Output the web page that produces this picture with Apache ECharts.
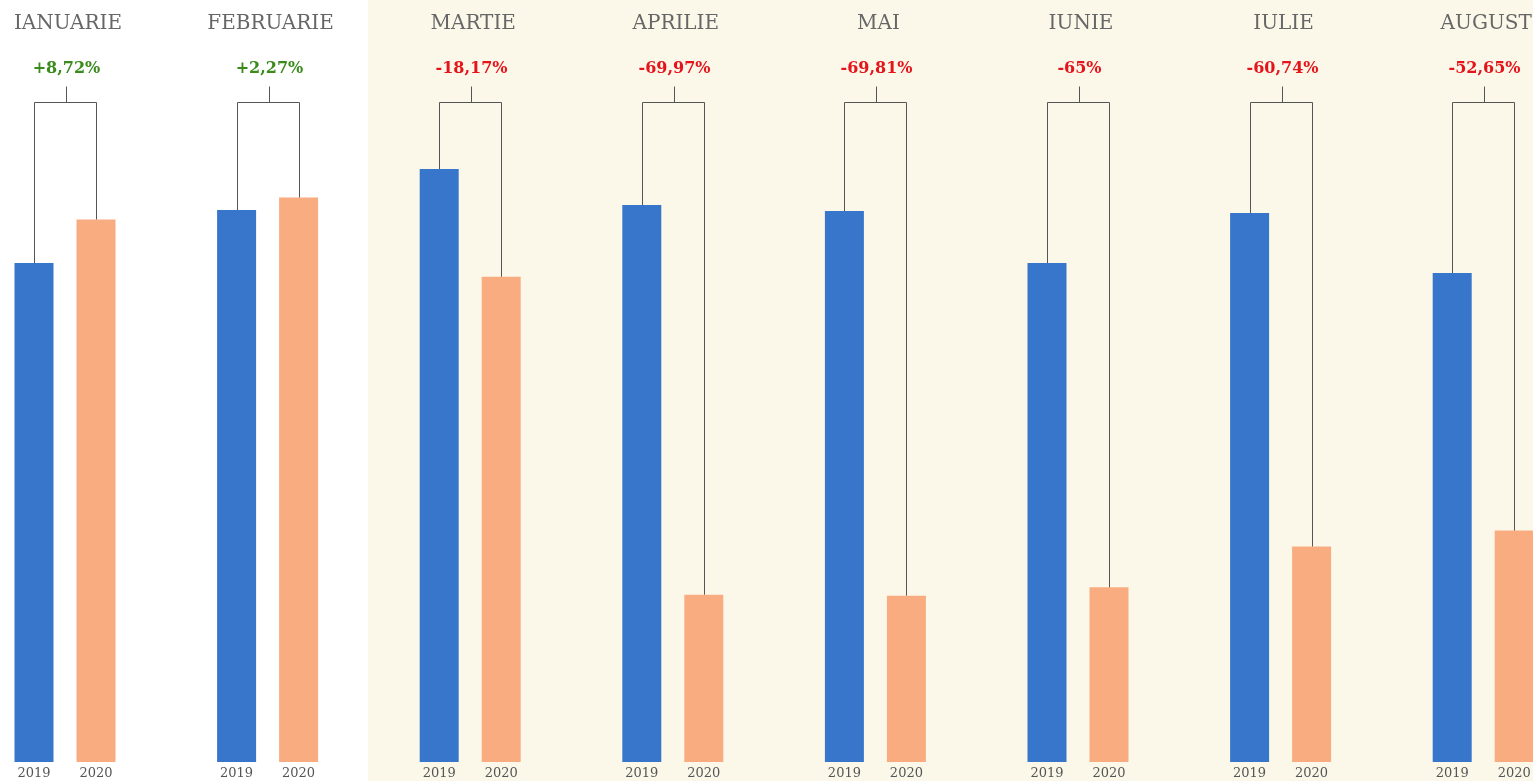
<!DOCTYPE html>
<html>
<head>
<meta charset="utf-8">
<script src="https://cdn.jsdelivr.net/npm/echarts@6/dist/echarts.min.js"></script>
<style>
  html, body { margin: 0; padding: 0; background: #ffffff; }
  #chart { width: 1533px; height: 781px; }
</style>
</head>
<body>
<div id="chart"></div>
<script>
// Monthly comparison, 2019 vs 2020
const luni = ['IANUARIE', 'FEBRUARIE', 'MARTIE', 'APRILIE', 'MAI', 'IUNIE', 'IULIE', 'AUGUST'];
const ani = ['2019', '2020'];
const valori2019 = [499, 552, 593, 557, 551, 499, 549, 489];
const valori2020 = [542.5, 564.5, 485.3, 167.3, 166.3, 174.7, 215.5, 231.5];
const variatii = ['+8,72%', '+2,27%', '-18,17%', '-69,97%', '-69,81%', '-65%', '-60,74%', '-52,65%'];

const COL_2019 = '#3876cc';
const COL_2020 = '#f8ac80';
const VERDE = '#3a8a1c';
const ROSU = '#e5141b';
const LINIE = '#555555';

const PAS = 202.6;      // horizontal step between month groups
const LATIME = 124;     // width of a month group's grid
const STANGA = 3;
const SUS = 62;
const JOS = 19;
const MAX_Y = 700;
const NIVEL_ACOLADA = 660;  // value level of the bracket joining the two bars

const chart = echarts.init(document.getElementById('chart'));

const grids = [], xAxes = [], yAxes = [], series = [], titles = [];

luni.forEach((luna, i) => {
  const left = STANGA + PAS * i;
  grids.push({ left: left, width: LATIME, top: SUS, bottom: JOS, outerBoundsMode: 'none', containLabel: false });
  xAxes.push({
    type: 'category', gridIndex: i, data: ani,
    axisLine: { show: false }, axisTick: { show: false },
    axisLabel: { color: '#555', fontSize: 13, margin: 5, fontFamily: 'DejaVu Serif' }
  });
  yAxes.push({
    type: 'value', gridIndex: i, min: 0, max: MAX_Y,
    show: false, splitLine: { show: false }
  });
  titles.push({
    text: luna,
    left: left + LATIME / 2 - 2, top: 9, textAlign: 'center',
    textStyle: { color: '#666', fontSize: 20, fontWeight: 'normal', fontFamily: 'DejaVu Serif' }
  });
  series.push({
    type: 'bar', xAxisIndex: i, yAxisIndex: i, barWidth: 39, barGap: '0%',
    data: [
      { value: valori2019[i], itemStyle: { color: COL_2019 } },
      { value: valori2020[i], itemStyle: { color: COL_2020 } }
    ],
    silent: true
  });
  series.push({
    type: 'custom', xAxisIndex: i, yAxisIndex: i, z: 3, silent: true,
    data: [[valori2019[i], valori2020[i], i]],
    renderItem: function (params, api) {
      const a = api.coord([0, api.value(0)]);
      const b = api.coord([1, api.value(1)]);
      const yb = Math.round(api.coord([0, NIVEL_ACOLADA])[1]) + 0.5;
      const xa = Math.round(a[0]) + 0.5, xb = Math.round(b[0]) + 0.5;
      const xm = Math.round((xa + xb) / 2) + 0.5;
      const idx = api.value(2);
      const txt = variatii[idx];
      return {
        type: 'group',
        children: [
          { type: 'polyline', shape: { points: [[xa, a[1]], [xa, yb], [xb, yb], [xb, b[1]]] },
            style: { stroke: LINIE, lineWidth: 1, fill: null } },
          { type: 'line', shape: { x1: xm, y1: yb, x2: xm, y2: yb - 16 },
            style: { stroke: LINIE, lineWidth: 1 } },
          { type: 'text', x: xm, y: yb - 34,
            style: { text: txt, fill: txt.charAt(0) === '+' ? VERDE : ROSU,
              font: 'bold 16px "DejaVu Serif"', align: 'center', verticalAlign: 'middle' } }
        ]
      };
    }
  });
});

chart.setOption({
  animation: false,
  backgroundColor: '#ffffff',
  graphic: [{
    type: 'rect', z: -10, silent: true,
    shape: { x: 368, y: 0, width: 1533 - 368, height: 781 },
    style: { fill: '#fcf8e9' }
  }],
  title: titles,
  grid: grids,
  xAxis: xAxes,
  yAxis: yAxes,
  series: series
});
</script>
</body>
</html>
